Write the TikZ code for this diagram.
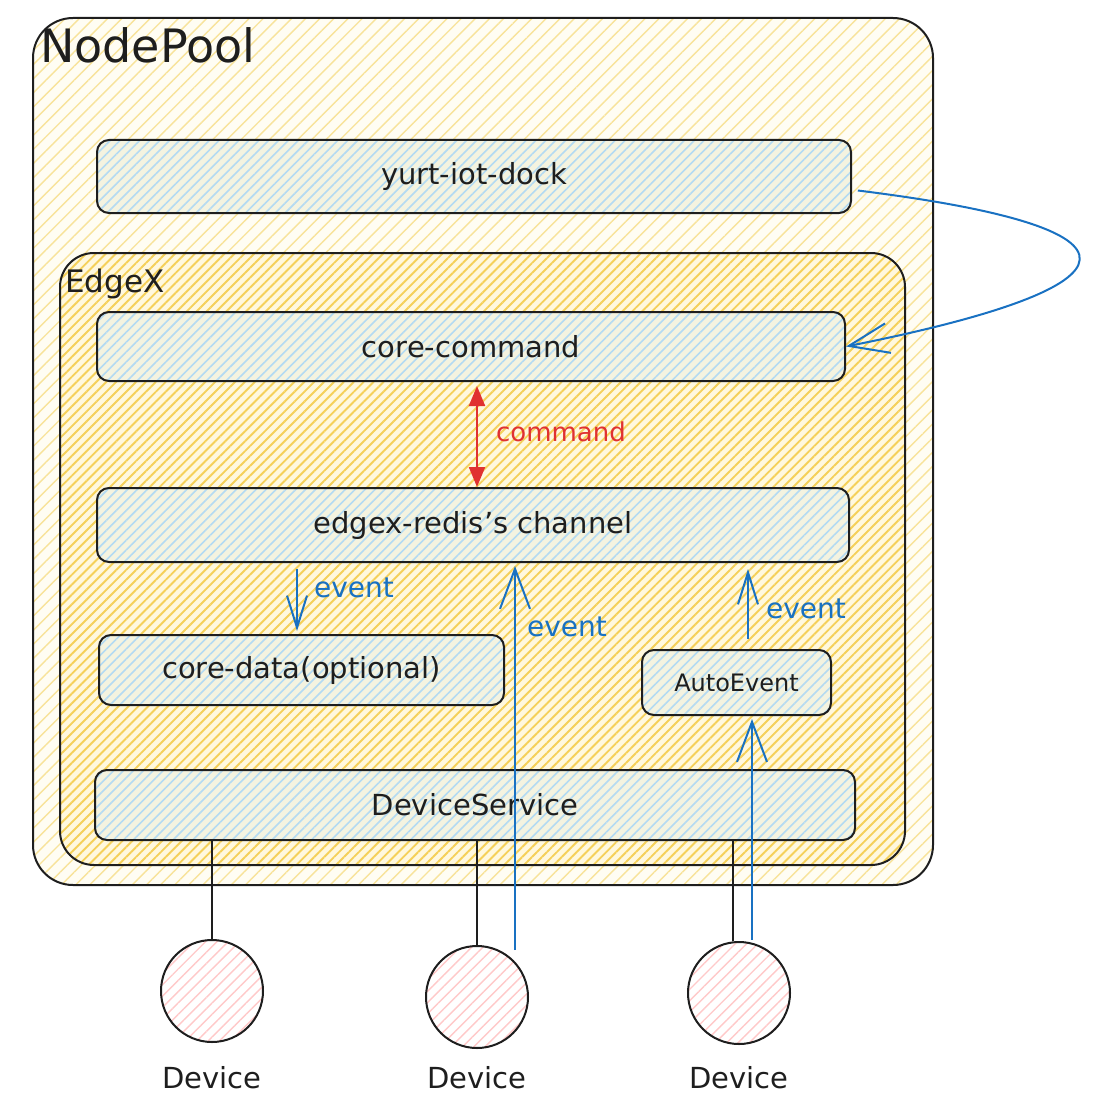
\documentclass[tikz,border=0pt]{standalone}
\usepackage{fontspec}
\setmainfont{DejaVu Sans}
\usetikzlibrary{arrows.meta,patterns.meta,positioning}

\definecolor{ink}{HTML}{1E1E1E}
\definecolor{poolbase}{HTML}{FFFDF3}
\definecolor{poolhatch}{HTML}{F8E39A}
\definecolor{edgebase}{HTML}{FFF8DE}
\definecolor{edgehatch}{HTML}{F5D059}
\definecolor{boxbase}{HTML}{F4F3E0}
\definecolor{boxhatch}{HTML}{B3DAF2}
\definecolor{devhatch}{HTML}{FFC9C9}
\definecolor{flowblue}{HTML}{1971C2}
\definecolor{cmdred}{HTML}{E03131}

\begin{document}
\begin{tikzpicture}[x=1pt,y=-1pt,
    poolbox/.style={draw=ink, line width=2pt, rounded corners=40pt,
      preaction={fill=poolbase},
      pattern={Lines[angle=45,distance=10pt,line width=1.4pt]}, pattern color=poolhatch},
    edgepane/.style={draw=ink, line width=2pt, rounded corners=34pt,
      preaction={fill=edgebase},
      pattern={Lines[angle=45,distance=7pt,line width=1.9pt]}, pattern color=edgehatch},
    unitbox/.style={draw=ink, line width=2pt, rounded corners=12pt,
      preaction={fill=boxbase},
      pattern={Lines[angle=45,distance=7pt,line width=1.6pt]}, pattern color=boxhatch,
      text=ink, font=\fontsize{29}{32}\selectfont},
    devnode/.style={circle, draw=ink, line width=2pt, minimum size=102pt,
      preaction={fill=white},
      pattern={Lines[angle=45,distance=8pt,line width=1.4pt]}, pattern color=devhatch},
    boxtitle/.style={anchor=north west, inner sep=0pt, text=ink},
    devlabel/.style={inner sep=0pt, text=ink, font=\fontsize{29}{32}\selectfont},
    evlabel/.style={inner sep=0pt, text=flowblue, font=\fontsize{28}{32}\selectfont},
    evflow/.style={draw=flowblue, line width=2pt, -{Straight Barb[length=40pt,width=30pt]}},
    evshort/.style={draw=flowblue, line width=2pt, -{Straight Barb[length=32pt,width=20pt]}},
    wire/.style={draw=ink, line width=2pt}]
  \useasboundingbox (0,0) rectangle (1094,1102);

  % containers
  \node[poolbox, minimum width=900pt, minimum height=867pt] (pool) at (483,451.5) {};
  \node[boxtitle, font=\fontsize{46}{50}\selectfont] (pooltitle) at (40,27) {NodePool};
  \node[unitbox, minimum width=754pt, minimum height=73pt] (dock) at (474,176.5) {yurt-iot-dock};
  \node[edgepane, minimum width=845pt, minimum height=612pt] (edgex) at (482.5,559) {};
  \node[boxtitle, font=\fontsize{31}{34}\selectfont] (edgetitle) at (65,269) {EdgeX};

  % edgex services
  \node[unitbox, minimum width=748pt, minimum height=69pt] (cmd) at (471,346.5) {core-command};
  \node[unitbox, minimum width=752pt, minimum height=74pt] (redis) at (473,525) {edgex-redis's channel};
  \node[unitbox, minimum width=405pt, minimum height=70pt] (data) at (301.5,670) {core-data(optional)};
  \node[unitbox, minimum width=189pt, minimum height=65pt, font=\fontsize{24}{28}\selectfont] (auto) at (736.5,682.5) {AutoEvent};
  \node[unitbox, minimum width=760pt, minimum height=70pt] (svc) at (475,805) {DeviceService};

  % devices
  \node[devnode] (d1) at (212,991) {};
  \node[devnode] (d2) at (477,997) {};
  \node[devnode] (d3) at (739,993) {};
  \node[devlabel, below=24pt of d1] (l1) {Device};
  \node[devlabel] (l2) at (l1 -| d2) {Device};
  \node[devlabel] (l3) at (l1 -| d3) {Device};

  \draw[wire] (d1.north |- svc.south) -- (d1.north);
  \draw[wire] (d2.north |- svc.south) -- (d2.north);
  \draw[wire] ([xshift=-6pt]d3.north |- svc.south) -- ([xshift=-6pt]d3.north);

  % events
  \coordinate (ev2) at (515,950);
  \coordinate (ev3) at (752,940);
  \draw[evflow, shorten >=3pt] (ev2) -- (ev2 |- redis.south);
  \draw[evflow, shorten >=3pt] (ev3) -- (ev3 |- auto.south);
  \draw[evshort, shorten <=6pt, shorten >=3pt] ([xshift=-4.5pt]data.north |- redis.south) -- ([xshift=-4.5pt]data.north);
  \draw[evshort, shorten <=10pt, shorten >=6pt] ([xshift=11.5pt]auto.north) -- ([xshift=11.5pt]auto.north |- redis.south);
  \node[evlabel] (e1) at (354,588) {event};
  \node[evlabel] (e2) at (567,627) {event};
  \node[evlabel] (e3) at (806,609) {event};

  % command
  \draw[draw=cmdred, fill=cmdred, line width=2pt,
    {Triangle[length=20pt,width=16pt]}-{Triangle[length=20pt,width=16pt]},
    shorten <=4pt] ([xshift=6pt]cmd.south) -- ([xshift=6pt]cmd.south |- redis.north);
  \node[inner sep=0pt, text=cmdred, font=\fontsize{26}{30}\selectfont] (cmdlabel) at (561,432) {command};

  % dock to core-command
  \draw[evflow] ([shift={(6,14)}]dock.east) .. controls (1160,228) and (1150,286) .. (cmd.east);
\end{tikzpicture}
\end{document}
